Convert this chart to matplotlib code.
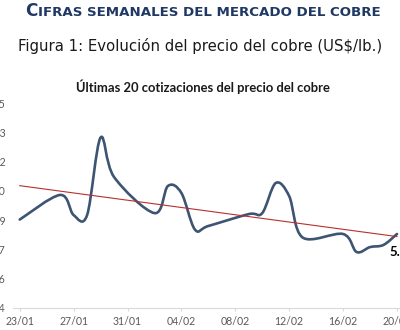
import numpy as np
import pandas as pd
import matplotlib
matplotlib.use('Agg')
import matplotlib.pyplot as plt
import matplotlib.dates as mdates
from matplotlib.path import Path
from matplotlib.patches import PathPatch

# Cotizaciones diarias (US$/lb)
fechas = ['2026-01-23', '2026-01-26', '2026-01-27', '2026-01-28', '2026-01-29',
          '2026-01-30', '2026-02-02', '2026-02-03', '2026-02-04', '2026-02-05',
          '2026-02-06', '2026-02-09', '2026-02-10', '2026-02-11', '2026-02-12',
          '2026-02-13', '2026-02-16', '2026-02-17', '2026-02-18', '2026-02-19',
          '2026-02-20']
precios = [5.853, 5.979, 5.876, 5.876, 6.273,
           6.071, 5.886, 6.025, 5.989, 5.802,
           5.820, 5.881, 5.886, 6.040, 5.973,
           5.761, 5.779, 5.687, 5.712, 5.723,
           5.779]

xtick_fechas = ['2026-01-23', '2026-01-27', '2026-01-31', '2026-02-04',
                '2026-02-08', '2026-02-12', '2026-02-16', '2026-02-20']
ytick_vals = [5.40, 5.55, 5.70, 5.85, 6.00, 6.15, 6.30, 6.45]
ytick_labels = ['5.4', '5.6', '5.7', '5.9', '6.0', '6.2', '6.3', '6.5']

NAVY = '#1F3864'
LINE = '#3D5472'
RED = '#B8302E'
GRAY = '#595959'

fig = plt.figure(figsize=(4.0, 3.3), dpi=100)

# encabezado en versalitas
renderer = fig.canvas.get_renderer()
t1 = fig.text(0.062, 0.952, 'C', fontsize=12.2, fontweight='bold', color=NAVY,
              family='DejaVu Sans', va='baseline')
bb = t1.get_window_extent(renderer)
fig.text(bb.x1 / 400 + 0.001, 0.952, 'IFRAS SEMANALES DEL MERCADO DEL COBRE',
         fontsize=9.6, fontweight='bold', color=NAVY, family='DejaVu Sans',
         va='baseline')

fig.text(0.5, 0.86, 'Figura 1: Evolución del precio del cobre (US$/lb.)',
         fontsize=10.7, color='#1a1a1a', family='DejaVu Sans', ha='center',
         va='center')

ax = fig.add_axes([13 / 400, 22 / 330, 390.7 / 400, 205 / 330])
ax.set_title('Últimas 20 cotizaciones del precio del cobre', family='Lato',
             fontweight='bold', fontsize=9.4, color='#1a1a1a', pad=8,
             x=0.485)

x = mdates.date2num(pd.to_datetime(fechas))
y = np.array(precios)
pts = np.column_stack([x, y])
n = len(pts)

# curva suavizada (Bezier tipo Catmull-Rom, como la línea suavizada de Excel)
verts = [pts[0]]
codes = [Path.MOVETO]
for i in range(n - 1):
    p_prev = pts[max(i - 1, 0)]
    p_next = pts[min(i + 2, n - 1)]
    c1 = pts[i] + (pts[i + 1] - p_prev) / 6
    c2 = pts[i + 1] - (p_next - pts[i]) / 6
    verts += [c1, c2, pts[i + 1]]
    codes += [Path.CURVE4] * 3
ax.add_patch(PathPatch(Path(verts, codes), facecolor='none', edgecolor=LINE,
                       lw=1.9, capstyle='round', joinstyle='round', zorder=3))

# línea de tendencia lineal
m, b = np.polyfit(x, y, 1)
ax.plot([x[0], x[-1]], [m * x[0] + b, m * x[-1] + b], color=RED, lw=0.8,
        zorder=4)

ax.annotate(f'{precios[-1]:.2f}', (x[-1], y[-1]), xytext=(4, -8.5),
            textcoords='offset points', ha='center', va='top', family='Lato',
            fontweight='bold', fontsize=9.5, color='black',
            annotation_clip=False)

ax.set_xlim(x[0] - 0.5, x[-1] + 0.5)
ax.set_ylim(ytick_vals[0], ytick_vals[-1])
ax.set_xticks(mdates.date2num(pd.to_datetime(xtick_fechas)))
ax.xaxis.set_major_formatter(mdates.DateFormatter('%d/%m'))
ax.set_yticks(ytick_vals)
ax.set_yticklabels(ytick_labels)

for s in ['left', 'top', 'right']:
    ax.spines[s].set_visible(False)
ax.spines['bottom'].set_color('#D9D9D9')
ax.spines['bottom'].set_linewidth(0.8)
ax.tick_params(axis='x', length=2.5, color='#D9D9D9', pad=3, labelsize=7.6,
               labelcolor=GRAY)
ax.tick_params(axis='y', length=0, pad=5.4, labelsize=7.6, labelcolor=GRAY)
for lab in ax.get_xticklabels() + ax.get_yticklabels():
    lab.set_family('Lato')

fig.savefig('out.png', dpi=100)
